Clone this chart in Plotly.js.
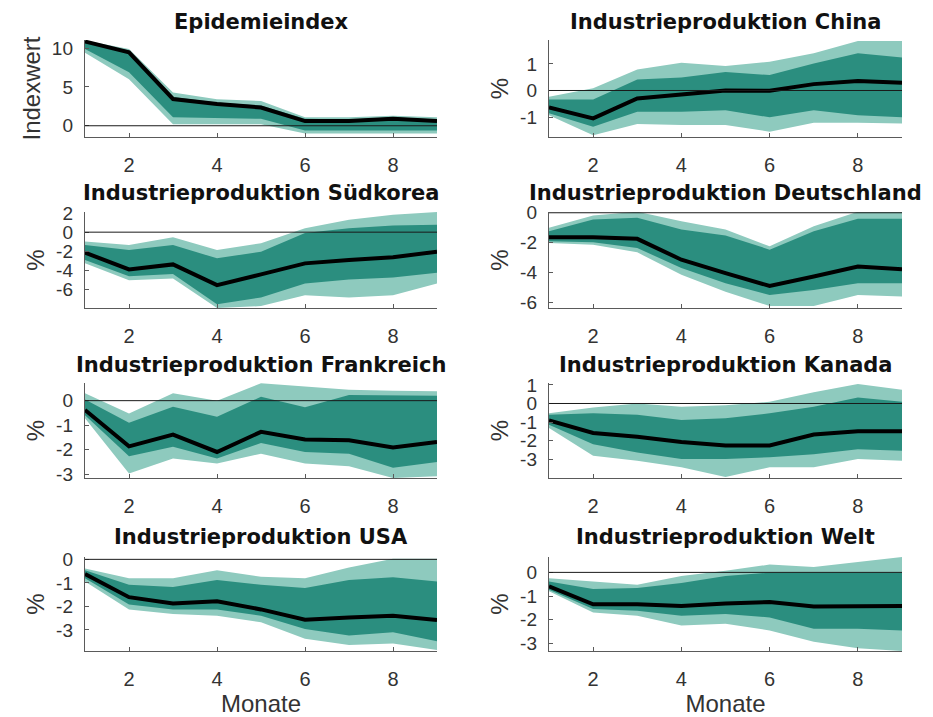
<!DOCTYPE html>
<html>
<head>
<meta charset="utf-8">
<script src="https://cdn.plot.ly/plotly-3.0.1.min.js"></script>
<style>html,body{margin:0;padding:0;background:#fff;}#chart{width:933px;height:717px;}</style>
</head>
<body>
<div id="chart"></div>
<script>
// ---- data ----
const months = [1, 2, 3, 4, 5, 6, 7, 8, 9];
const xTickVals = [2, 4, 6, 8];
const xTickText = ['2', '4', '6', '8'];

const panelTitles = ['Epidemieindex', 'Industrieproduktion China', 'Industrieproduktion Südkorea',
  'Industrieproduktion Deutschland', 'Industrieproduktion Frankreich', 'Industrieproduktion Kanada',
  'Industrieproduktion USA', 'Industrieproduktion Welt'];
const yAxisTitles = ['Indexwert', '%', '%', '%', '%', '%', '%', '%'];
const xAxisTitle = 'Monate';

const epiTickVals = [0, 5, 10];            const epiTickText = ['0', '5', '10'];
const chnTickVals = [-1, 0, 1];            const chnTickText = ['-1', '0', '1'];
const korTickVals = [-6, -4, -2, 0, 2];    const korTickText = ['-6', '-4', '-2', '0', '2'];
const deuTickVals = [-6, -4, -2, 0];       const deuTickText = ['-6', '-4', '-2', '0'];
const fraTickVals = [-3, -2, -1, 0];       const fraTickText = ['-3', '-2', '-1', '0'];
const canTickVals = [-3, -2, -1, 0, 1];    const canTickText = ['-3', '-2', '-1', '0', '1'];
const usaTickVals = [-3, -2, -1, 0];       const usaTickText = ['-3', '-2', '-1', '0'];
const wldTickVals = [-3, -2, -1, 0];       const wldTickText = ['-3', '-2', '-1', '0'];

const epiMedian  = [10.85, 9.45, 3.45, 2.8, 2.35, 0.6, 0.6, 0.9, 0.6];
const epiDarkUp  = [10.9, 9.7, 3.7, 3.0, 2.6, 0.9, 0.8, 1.1, 0.8];
const epiLightUp = [11.0, 9.9, 4.3, 3.4, 3.2, 1.1, 1.1, 1.3, 1.1];
const epiDarkLo  = [9.9, 6.9, 1.1, 1.0, 0.9, -0.6, -0.6, -0.6, -0.6];
const epiLightLo = [9.4, 6.0, 0.2, 0.2, 0.2, -1.0, -1.0, -1.0, -1.0];

const chnMedian  = [-0.64, -1.05, -0.3, -0.15, 0.0, -0.01, 0.24, 0.36, 0.29];
const chnDarkUp  = [-0.34, -0.34, 0.41, 0.49, 0.7, 0.58, 1.02, 1.4, 1.24];
const chnLightUp = [-0.24, 0.08, 0.79, 1.04, 0.92, 1.08, 1.4, 1.86, 1.86];
const chnDarkLo  = [-0.86, -1.36, -0.8, -0.8, -0.74, -1.01, -0.74, -0.93, -1.01];
const chnLightLo = [-0.93, -1.68, -1.26, -1.3, -1.3, -1.55, -1.21, -1.21, -1.24];

const korMedian  = [-2.13, -3.88, -3.36, -5.52, -4.4, -3.25, -2.9, -2.62, -2.03];
const korDarkUp  = [-1.33, -1.85, -1.33, -2.73, -2.03, -0.1, 0.42, 0.7, 0.77];
const korLightUp = [-0.98, -1.33, -0.52, -1.85, -1.15, 0.42, 1.29, 1.82, 2.1];
const korDarkLo  = [-2.9, -4.58, -4.37, -7.52, -6.8, -5.35, -4.93, -4.72, -4.23];
const korLightLo = [-3.25, -5.0, -4.83, -7.9, -7.7, -6.57, -6.8, -6.57, -5.35];

const deuMedian  = [-1.63, -1.63, -1.74, -3.13, -4.03, -4.88, -4.25, -3.58, -3.76];
const deuDarkUp  = [-1.23, -0.45, -0.34, -1.12, -1.52, -2.46, -1.23, -0.4, -0.4];
const deuLightUp = [-1.0, -0.18, 0.07, -0.56, -1.12, -2.24, -0.9, 0.07, 0.07];
const deuDarkLo  = [-1.9, -1.97, -2.35, -3.69, -4.7, -5.48, -5.15, -4.7, -4.7];
const deuLightLo = [-2.01, -2.13, -2.64, -4.14, -5.26, -6.22, -6.22, -5.48, -5.59];

const fraMedian  = [-0.38, -1.86, -1.38, -2.09, -1.27, -1.58, -1.61, -1.91, -1.68];
const fraDarkUp  = [0.05, -0.9, -0.25, -0.65, 0.16, -0.27, 0.23, 0.23, 0.2];
const fraLightUp = [0.3, -0.52, 0.3, 0.0, 0.71, 0.57, 0.45, 0.4, 0.38];
const fraDarkLo  = [-0.59, -2.26, -1.88, -2.36, -1.72, -2.09, -2.16, -2.73, -2.5];
const fraLightLo = [-0.72, -2.97, -2.36, -2.56, -2.16, -2.56, -2.67, -3.15, -3.08];

const canMedian  = [-0.91, -1.58, -1.79, -2.07, -2.25, -2.25, -1.67, -1.49, -1.49];
const canDarkUp  = [-0.61, -0.53, -0.61, -0.88, -0.79, -0.53, -0.18, 0.32, 0.09];
const canLightUp = [-0.53, -0.21, 0.0, -0.18, -0.09, 0.09, 0.61, 1.05, 0.74];
const canDarkLo  = [-1.14, -2.19, -2.63, -2.98, -2.98, -2.89, -2.72, -2.46, -2.54];
const canLightLo = [-1.32, -2.81, -3.07, -3.42, -3.95, -3.42, -3.42, -2.98, -3.07];

const usaMedian  = [-0.62, -1.61, -1.88, -1.78, -2.13, -2.57, -2.47, -2.4, -2.58];
const usaDarkUp  = [-0.46, -1.08, -1.18, -0.88, -1.08, -1.22, -0.88, -0.76, -0.94];
const usaLightUp = [-0.39, -0.8, -0.8, -0.46, -0.74, -0.8, -0.35, 0.03, 0.03];
const usaDarkLo  = [-0.8, -1.92, -2.13, -2.13, -2.4, -2.96, -3.24, -3.1, -3.49];
const usaLightLo = [-0.94, -2.13, -2.33, -2.4, -2.68, -3.38, -3.65, -3.58, -3.86];

const wldMedian  = [-0.59, -1.35, -1.35, -1.42, -1.31, -1.25, -1.44, -1.44, -1.42];
const wldDarkUp  = [-0.39, -0.7, -0.66, -0.45, -0.15, -0.01, -0.01, -0.01, -0.01];
const wldLightUp = [-0.25, -0.39, -0.52, -0.15, 0.07, 0.33, 0.23, 0.44, 0.65];
const wldDarkLo  = [-0.73, -1.55, -1.62, -1.83, -1.76, -1.9, -2.38, -2.38, -2.45];
const wldLightLo = [-0.8, -1.69, -1.83, -2.24, -2.17, -2.45, -2.93, -3.2, -3.32];

// ---- assembly ----
const panels = [
  {med: epiMedian, du: epiDarkUp, lu: epiLightUp, dl: epiDarkLo, ll: epiLightLo, tv: epiTickVals, tt: epiTickText, range: [-1.45, 11.05]},
  {med: chnMedian, du: chnDarkUp, lu: chnLightUp, dl: chnDarkLo, ll: chnLightLo, tv: chnTickVals, tt: chnTickText, range: [-1.75, 1.9]},
  {med: korMedian, du: korDarkUp, lu: korLightUp, dl: korDarkLo, ll: korLightLo, tv: korTickVals, tt: korTickText, range: [-7.9, 2.1]},
  {med: deuMedian, du: deuDarkUp, lu: deuLightUp, dl: deuDarkLo, ll: deuLightLo, tv: deuTickVals, tt: deuTickText, range: [-6.35, 0.05]},
  {med: fraMedian, du: fraDarkUp, lu: fraLightUp, dl: fraDarkLo, ll: fraLightLo, tv: fraTickVals, tt: fraTickText, range: [-3.15, 0.72]},
  {med: canMedian, du: canDarkUp, lu: canLightUp, dl: canDarkLo, ll: canLightLo, tv: canTickVals, tt: canTickText, range: [-4.0, 1.1]},
  {med: usaMedian, du: usaDarkUp, lu: usaLightUp, dl: usaDarkLo, ll: usaLightLo, tv: usaTickVals, tt: usaTickText, range: [-3.9, 0.1]},
  {med: wldMedian, du: wldDarkUp, lu: wldLightUp, dl: wldDarkLo, ll: wldLightLo, tv: wldTickVals, tt: wldTickText, range: [-3.32, 0.65]}
];

const W = 933, H = 717;
const colX = [[85, 437], [549, 902]];
const rowY = [[40, 137], [212, 308], [383, 478], [557, 651]];
const titleY = [22, 193, 365, 537];

const LIGHT = '#8ecabe';
const DARK = '#2b8e7f';
const AXC = '#5a5a5a';
const TXT = '#333333';

const traces = [];
const layout = {
  width: W, height: H,
  margin: {l: 0, r: 0, t: 0, b: 0},
  paper_bgcolor: '#ffffff', plot_bgcolor: '#ffffff',
  showlegend: false,
  font: {family: 'Liberation Sans, Arial, sans-serif', color: TXT},
  annotations: [], shapes: []
};

panels.forEach((p, i) => {
  const n = i + 1;
  const xa = 'x' + (n === 1 ? '' : n), ya = 'y' + (n === 1 ? '' : n);
  const col = i % 2, row = Math.floor(i / 2);
  const base = {x: months, xaxis: xa, yaxis: ya, mode: 'lines', hoverinfo: 'skip'};
  traces.push(Object.assign({}, base, {y: p.ll, line: {width: 0, color: LIGHT}, fill: 'none'}));
  traces.push(Object.assign({}, base, {y: p.lu, line: {width: 0, color: LIGHT}, fill: 'tonexty', fillcolor: LIGHT}));
  traces.push(Object.assign({}, base, {y: p.dl, line: {width: 0, color: DARK}, fill: 'none'}));
  traces.push(Object.assign({}, base, {y: p.du, line: {width: 0, color: DARK}, fill: 'tonexty', fillcolor: DARK}));
  traces.push(Object.assign({}, base, {y: p.med, line: {width: 4, color: '#000000'}}));

  const xk = 'xaxis' + (n === 1 ? '' : n), yk = 'yaxis' + (n === 1 ? '' : n);
  layout[xk] = {
    domain: [colX[col][0] / W, colX[col][1] / W], anchor: ya,
    range: [1, 9], tickmode: 'array', tickvals: xTickVals, ticktext: xTickText,
    ticks: 'inside', ticklen: 4, tickcolor: AXC, tickwidth: 1,
    showline: true, linecolor: AXC, linewidth: 1.2, showgrid: false, zeroline: false,
    tickfont: {size: 20, color: TXT}, ticklabelstandoff: 10,
    title: row === 3 ? {text: xAxisTitle, font: {size: 24, color: TXT}, standoff: 8} : {text: ''}
  };
  layout[yk] = {
    domain: [1 - rowY[row][1] / H, 1 - rowY[row][0] / H], anchor: xa,
    range: p.range, tickmode: 'array', tickvals: p.tv, ticktext: p.tt,
    ticks: 'inside', ticklen: 4, tickcolor: AXC, tickwidth: 1,
    showline: true, linecolor: AXC, linewidth: 1.2, showgrid: false, zeroline: false,
    tickfont: {size: 19, color: TXT}, ticklabelstandoff: 7,
    title: {text: yAxisTitles[i], font: {size: 24, color: TXT}, standoff: 4}
  };
  layout.shapes.push({type: 'line', xref: xa + ' domain', yref: ya, x0: 0, x1: 1, y0: 0, y1: 0,
    line: {color: '#1a1a1a', width: 1}, layer: 'above'});
  layout.annotations.push({
    text: '<b>' + panelTitles[i] + '</b>', xref: 'paper', yref: 'paper',
    x: (colX[col][0] + colX[col][1]) / 2 / W, y: 1 - titleY[row] / H,
    xanchor: 'center', yanchor: 'middle', showarrow: false,
    font: {family: 'DejaVu Sans, sans-serif', size: 21, color: '#111111'}
  });
});

Plotly.newPlot('chart', traces, layout, {staticPlot: true, displayModeBar: false});
</script>
</body>
</html>
